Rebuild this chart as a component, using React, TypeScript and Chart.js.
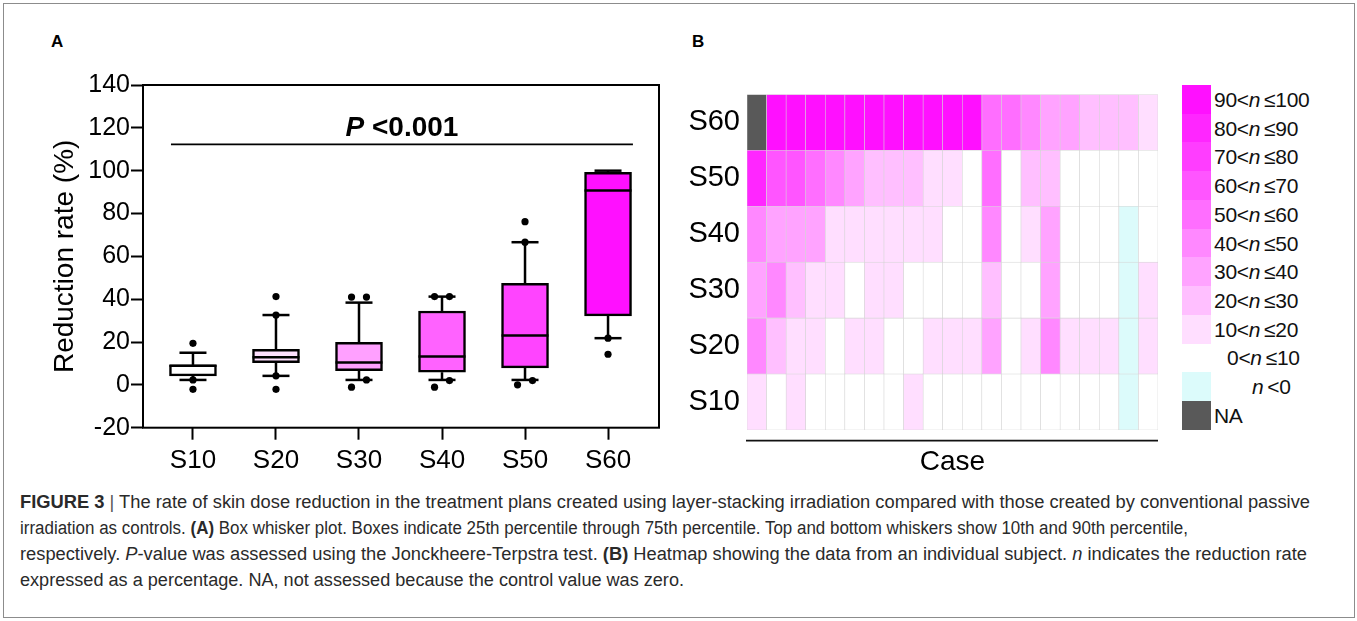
import React, { useEffect, useRef } from 'react';
import { Chart, registerables } from 'chart.js';

Chart.register(...registerables);

const FONT = "'Liberation Sans', Arial, Helvetica, sans-serif";

// ---------- Panel A: box-whisker values (reduction rate, %) ----------
const groups = ['S10', 'S20', 'S30', 'S40', 'S50', 'S60'];
const whiskerLow = [2.3, 4.2, 2.3, 2.3, 2.3, 21.8];
const quartile1 = [4.2, 10.4, 6.6, 5.9, 7.9, 32.2];
const medians = [8.9, 12.9, 10.4, 13.2, 23.0, 90.7];
const quartile3 = [9.3, 16.6, 19.9, 34.5, 47.4, 99.2];
const whiskerHigh = [15.0, 32.6, 38.4, 41.2, 66.6, 100];
const outliersS10 = [19.4, 2.3, -2.1];
const outliersS20 = [41.2, 32.6, 4.2, -2.1];
const outliersS30 = [41.0, 41.0, 2.3, -1.1];
const outliersS40 = [41.2, 41.2, 2.0, -1.1];
const outliersS50 = [76.2, 66.6, 2.0, 0];
const outliersS60 = [21.8, 14.3];
const outliers = [outliersS10, outliersS20, outliersS30, outliersS40, outliersS50, outliersS60];
const yMin = -20;
const yMax = 140;
const yStep = 20;
const pValueLabel = '<0.001';
const pBarLevel = 112.3;

// ---------- Panel B: heatmap, per-case reduction rate (null = NA) ----------
const caseLabels = ['1', '2', '3', '4', '5', '6', '7', '8', '9', '10', '11', '12', '13', '14', '15', '16', '17', '18', '19', '20', '21'];
const heatS60 = [null, 95, 95, 95, 95, 95, 95, 95, 95, 95, 95, 95, 55, 55, 45, 35, 35, 25, 25, 25, 15];
const heatS50 = [85, 65, 65, 55, 45, 35, 25, 25, 25, 15, 15, 5, 55, 5, 25, 25, 5, 5, 5, 5, 5];
const heatS40 = [45, 35, 35, 35, 15, 15, 15, 15, 15, 15, 5, 5, 45, 5, 15, 35, 5, 5, 5, -3, 5];
const heatS30 = [35, 45, 25, 15, 15, 5, 15, 15, 5, 5, 5, 5, 25, 5, 5, 35, 5, 5, 5, -3, 15];
const heatS20 = [42, 25, 15, 15, 5, 15, 15, 5, 5, 15, 15, 15, 35, 5, 15, 45, 15, 15, 15, -3, 15];
const heatS10 = [15, 5, 15, 5, 5, 5, 5, 5, 15, 5, 5, 5, 5, 5, 5, 5, 5, 5, 5, -3, 5];
const heatRows = [heatS10, heatS20, heatS30, heatS40, heatS50, heatS60]; // bottom -> top

// legend bins
const binLower = [90, 80, 70, 60, 50, 40, 30, 20, 10, 0];
const binUpper = [100, 90, 80, 70, 60, 50, 40, 30, 20, 10];

// ---------- styles ----------
const binColors = ['#FF10FF', '#FF26FF', '#FF3DFF', '#FF55FF', '#FF6EFF', '#FF88FF', '#FFA3FF', '#FFBFFF', '#FFDEFF', '#FFFFFF'];
const NEG_COLOR = '#DCFBFB';
const NA_COLOR = '#595959';
const boxFill = ['#FFFFFF', '#FFE0FF', '#FFA0FF', '#FF62FF', '#FF44FF', '#FF10FF'];

function binColor(v: number | null): string {
  if (v === null) return NA_COLOR;
  if (v < 0) return NEG_COLOR;
  for (let i = 0; i < binLower.length; i++) if (v > binLower[i]) return binColors[i];
  return '#FFFFFF';
}

function outlierPoints() {
  const pts: { x: number; y: number }[] = [];
  outliers.forEach((vals, i) => {
    const above = vals.filter((v) => v > medians[i]).sort((a, b) => a - b);
    const below = vals.filter((v) => v <= medians[i]).sort((a, b) => a - b);
    [above, below].forEach((side) => {
      side.forEach((v, k) => {
        let dx = 0;
        const prev = side[k - 1];
        const next = side[k + 1];
        if (next !== undefined && next - v < 4) dx = -0.09;
        else if (prev !== undefined && v - prev < 4) dx = 0.09;
        pts.push({ x: i + dx, y: v });
      });
    });
  });
  return pts;
}

const boxExtras = {
  id: 'boxExtras',
  afterDatasetsDraw(chart: any) {
    const { ctx, chartArea, scales } = chart;
    const x = scales.x;
    const y = scales.y;
    ctx.save();
    ctx.strokeStyle = '#000';
    ctx.lineWidth = 2.5;
    const capHalf = 13.5;
    const boxHalf = 23.5;
    const seg = (x1: number, y1: number, x2: number, y2: number) => {
      ctx.beginPath();
      ctx.moveTo(x1, y1);
      ctx.lineTo(x2, y2);
      ctx.stroke();
    };
    groups.forEach((_, i) => {
      const cx = x.getPixelForValue(i);
      const yq3 = y.getPixelForValue(quartile3[i]);
      const yq1 = y.getPixelForValue(quartile1[i]);
      const yHi = y.getPixelForValue(whiskerHigh[i]);
      const yLo = y.getPixelForValue(whiskerLow[i]);
      const yMed = y.getPixelForValue(medians[i]);
      seg(cx, yq3, cx, yHi);
      seg(cx - capHalf, yHi, cx + capHalf, yHi);
      seg(cx, yq1, cx, yLo);
      seg(cx - capHalf, yLo, cx + capHalf, yLo);
      seg(cx - boxHalf, yMed, cx + boxHalf, yMed);
    });
    // frame
    ctx.lineWidth = 2;
    ctx.strokeRect(chartArea.left, chartArea.top, chartArea.right - chartArea.left, chartArea.bottom - chartArea.top);
    // significance bar
    const lx1 = x.getPixelForValue(-0.265);
    const lx2 = x.getPixelForValue(5.3);
    const ly = y.getPixelForValue(pBarLevel);
    ctx.lineWidth = 1.6;
    seg(lx1, ly, lx2, ly);
    const fP = `italic bold 28px ${FONT}`;
    const fV = `bold 28px ${FONT}`;
    ctx.font = fP;
    const wP = ctx.measureText('P').width;
    ctx.font = fV;
    const wV = ctx.measureText(' ' + pValueLabel).width;
    const start = (lx1 + lx2) / 2 - (wP + wV) / 2;
    ctx.fillStyle = '#000';
    ctx.textBaseline = 'alphabetic';
    ctx.textAlign = 'left';
    ctx.font = fP;
    ctx.fillText('P', start, ly - 8.5);
    ctx.font = fV;
    ctx.fillText(' ' + pValueLabel, start + wP, ly - 8.5);
    ctx.restore();
  },
};

function BoxPanel() {
  const ref = useRef<HTMLCanvasElement>(null);
  useEffect(() => {
    const chart = new Chart(ref.current as HTMLCanvasElement, {
      type: 'bar',
      data: {
        datasets: [
          {
            type: 'scatter',
            data: outlierPoints(),
            pointRadius: 3.6,
            pointBackgroundColor: '#000',
            pointBorderWidth: 0,
            order: 0,
          } as any,
          {
            type: 'bar',
            data: groups.map((_, i) => ({ x: i, y: [quartile1[i], quartile3[i]] })),
            backgroundColor: boxFill,
            borderColor: '#000',
            borderWidth: 2.5,
            borderSkipped: false,
            barThickness: 47,
            order: 1,
          } as any,
        ],
      },
      options: {
        animation: false,
        responsive: false,
        events: [],
        layout: { padding: { top: 25, right: 21, left: 0, bottom: 0 } },
        plugins: { legend: { display: false }, tooltip: { enabled: false } },
        scales: {
          x: {
            type: 'linear',
            min: -0.602,
            max: 5.614,
            offset: false,
            afterBuildTicks: (s: any) => {
              s.ticks = groups.map((_, i) => ({ value: i }));
            },
            afterFit: (s: any) => {
              s.height = 52.3;
            },
            ticks: {
              callback: (_v: any, i: number) => groups[i],
              font: { size: 26, family: FONT },
              color: '#000',
              padding: 6,
              autoSkip: false,
              maxRotation: 0,
            },
            grid: { display: true, offset: false, drawOnChartArea: false, drawTicks: true, tickLength: 12, tickColor: '#000', tickWidth: 2 },
            border: { display: false },
          },
          y: {
            min: yMin,
            max: yMax,
            afterFit: (s: any) => {
              s.width = 143;
            },
            ticks: { stepSize: yStep, font: { size: 25, family: FONT }, color: '#000', padding: 1 },
            grid: { display: true, drawOnChartArea: false, drawTicks: true, tickLength: 12, tickColor: '#000', tickWidth: 2 },
            border: { display: false },
            title: {
              display: true,
              text: 'Reduction rate (%)',
              color: '#000',
              font: { size: 28, family: FONT },
              padding: { top: 48, bottom: 0 },
            },
          },
        },
      } as any,
      plugins: [boxExtras],
    });
    return () => chart.destroy();
  }, []);
  return <canvas ref={ref} width={680} height={420} style={{ position: 'absolute', left: 0, top: 60, width: 680, height: 420 }} />;
}

const heatExtras = {
  id: 'heatExtras',
  afterDraw(chart: any) {
    const { ctx, chartArea } = chart;
    ctx.save();
    ctx.strokeStyle = '#111';
    ctx.lineWidth = 1.8;
    const ly = chartArea.bottom + 10.7;
    ctx.beginPath();
    ctx.moveTo(chartArea.left - 1, ly);
    ctx.lineTo(chartArea.right, ly);
    ctx.stroke();
    ctx.fillStyle = '#000';
    ctx.font = `28px ${FONT}`;
    ctx.textAlign = 'center';
    ctx.textBaseline = 'alphabetic';
    ctx.fillText('Case', (chartArea.left + chartArea.right) / 2, chartArea.bottom + 40);
    ctx.restore();
  },
};

function HeatPanel() {
  const ref = useRef<HTMLCanvasElement>(null);
  useEffect(() => {
    const chart = new Chart(ref.current as HTMLCanvasElement, {
      type: 'bar',
      data: {
        labels: caseLabels,
        datasets: heatRows.map((row, r) => ({
          data: row.map(() => [r, r + 1]),
          backgroundColor: row.map(binColor),
          borderColor: '#d4d4d4',
          borderWidth: 0.6,
          borderSkipped: false,
          barPercentage: 1,
          categoryPercentage: 1,
          grouped: false,
        })) as any,
      },
      options: {
        animation: false,
        responsive: false,
        events: [],
        layout: { padding: { top: 15, right: 12, left: 0, bottom: 50 } },
        plugins: { legend: { display: false }, tooltip: { enabled: false } },
        scales: {
          x: { display: false },
          y: {
            min: 0,
            max: 6,
            afterBuildTicks: (s: any) => {
              s.ticks = groups.map((_, i) => ({ value: i + 0.5 }));
            },
            afterFit: (s: any) => {
              s.width = 67;
            },
            ticks: {
              callback: (_v: any, i: number) => groups[i],
              font: { size: 29, family: FONT },
              color: '#000',
              padding: 7,
            },
            grid: { display: false, drawTicks: false },
            border: { display: false },
          },
        },
      } as any,
      plugins: [heatExtras],
    });
    return () => chart.destroy();
  }, []);
  return <canvas ref={ref} width={490} height={410} style={{ position: 'absolute', left: 680, top: 70, width: 490, height: 410 }} />;
}

function Legend() {
  const rowH = 28.7;
  const top = 85;
  const rows: { color: string | null; label: React.ReactNode; indent: number }[] = [];
  binLower.forEach((lo, i) => {
    rows.push({
      color: i < binLower.length - 1 ? binColors[i] : null,
      label: (
        <>
          {lo}&lt;<i>n</i>&thinsp;≤{binUpper[i]}
        </>
      ),
      indent: i < binLower.length - 1 ? 0 : 13,
    });
  });
  rows.push({ color: NEG_COLOR, label: <><i>n</i>&thinsp;&lt;0</>, indent: 38 });
  rows.push({ color: NA_COLOR, label: <>NA</>, indent: 0 });
  return (
    <>
      {rows.map((r, i) => (
        <React.Fragment key={i}>
          {r.color && (
            <div style={{ position: 'absolute', left: 1182, top: top + i * rowH, width: 29, height: rowH + 0.3, background: r.color }} />
          )}
          <div
            style={{
              position: 'absolute',
              left: 1214 + r.indent,
              top: top + i * rowH + 1,
              height: rowH,
              lineHeight: `${rowH}px`,
              fontFamily: FONT,
              fontSize: 21,
              color: '#111',
              whiteSpace: 'nowrap',
              letterSpacing: -0.3,
            }}
          >
            {r.label}
          </div>
        </React.Fragment>
      ))}
    </>
  );
}

const captionTargets = [1290, 1168, 1287, 664];

function Caption() {
  const refs = useRef<(HTMLSpanElement | null)[]>([]);
  useEffect(() => {
    refs.current.forEach((el, i) => {
      if (!el) return;
      el.style.transform = 'none';
      const w = el.getBoundingClientRect().width;
      if (w > 0) el.style.transform = `scaleX(${captionTargets[i] / w})`;
    });
  }, []);
  const lines: React.ReactNode[] = [
    <>
      <b>FIGURE 3</b> <span style={{ fontWeight: 300, color: '#555' }}>|</span> The rate of skin dose reduction in the treatment plans created using layer-stacking irradiation compared with those created by conventional passive
    </>,
    <>
      irradiation as controls. <b>(A)</b> Box whisker plot. Boxes indicate 25th percentile through 75th percentile. Top and bottom whiskers show 10th and 90th percentile,
    </>,
    <>
      respectively. <i>P</i>-value was assessed using the Jonckheere-Terpstra test. <b>(B)</b> Heatmap showing the data from an individual subject. <i>n</i> indicates the reduction rate
    </>,
    <>expressed as a percentage. NA, not assessed because the control value was zero.</>,
  ];
  return (
    <>
      {lines.map((l, i) => (
        <span
          key={i}
          ref={(el) => {
            refs.current[i] = el;
          }}
          style={{
            position: 'absolute',
            left: 20,
            top: 492 + i * 26,
            lineHeight: '20px',
            fontSize: 18,
            fontFamily: FONT,
            color: '#2a2a2a',
            whiteSpace: 'nowrap',
            transformOrigin: 'left center',
            display: 'inline-block',
          }}
        >
          {l}
        </span>
      ))}
    </>
  );
}

export default function App() {
  return (
    <div style={{ position: 'absolute', left: 0, top: 0, width: 1357, height: 621, background: '#fff', overflow: 'hidden' }}>
      <div style={{ position: 'absolute', left: 3, top: 3, width: 1350, height: 613, border: '1px solid #8c8c8c' }} />
      <div style={{ position: 'absolute', left: 51, top: 33, fontFamily: FONT, fontWeight: 'bold', fontSize: 17, lineHeight: '17px', color: '#000' }}>A</div>
      <div style={{ position: 'absolute', left: 692, top: 33, fontFamily: FONT, fontWeight: 'bold', fontSize: 17, lineHeight: '17px', color: '#000' }}>B</div>
      <BoxPanel />
      <HeatPanel />
      <Legend />
      <Caption />
    </div>
  );
}
